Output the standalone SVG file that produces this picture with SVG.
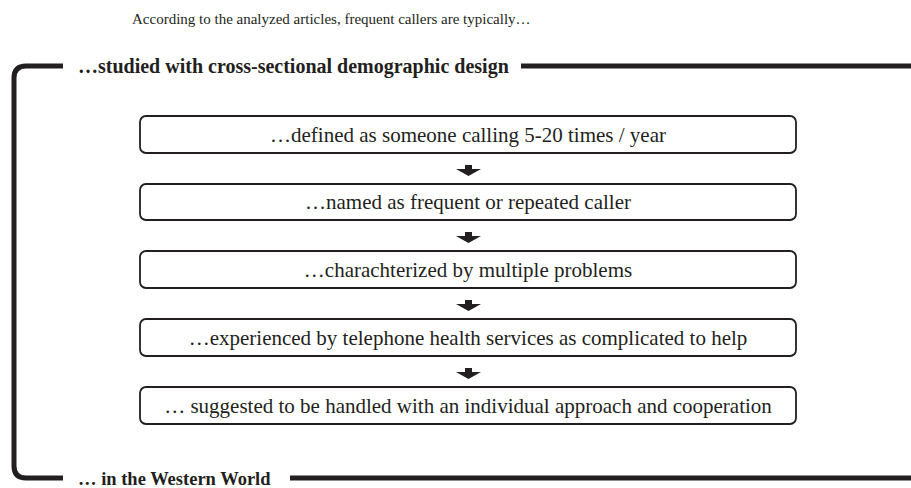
<svg xmlns="http://www.w3.org/2000/svg" width="911" height="488" viewBox="0 0 911 488">
<defs>
<style>
.t{font-family:"Liberation Serif","Times New Roman",serif;fill:#231f20}
.bt{font-size:21px}
.box{fill:#fff;stroke:#231f20;stroke-width:1.8}
.br{fill:none;stroke:#231f20;stroke-width:5}
.arr{fill:#231f20}
</style>
</defs>
<rect width="911" height="488" fill="#fff"/>
<text class="t" x="132" y="24" font-size="15">According to the analyzed articles, frequent callers are typically…</text>
<g id="frame">
<path class="br" d="M63 66 H26 Q14 66 14 78 V466 Q14 478 26 478 H63"/>
<line class="br" x1="521" y1="66" x2="911" y2="66"/>
<line class="br" x1="290" y1="478" x2="911" y2="478"/>
<text class="t" x="78" y="73" font-size="20" font-weight="bold">…studied with cross-sectional demographic design</text>
<text class="t" x="78" y="485" font-size="18.5" font-weight="bold">… in the Western World</text>
</g>
<g id="n1"><rect class="box" x="140" y="116" width="656" height="37" rx="6"/><text class="t bt" x="468" y="142" text-anchor="middle">…defined as someone calling 5-20 times / year</text></g>
<g id="n2"><rect class="box" x="140" y="184" width="656" height="36" rx="6"/><text class="t bt" x="468" y="209" text-anchor="middle">…named as frequent or repeated caller</text></g>
<g id="n3"><rect class="box" x="140" y="251" width="656" height="37" rx="6"/><text class="t bt" x="468" y="277" text-anchor="middle">…charachterized by multiple problems</text></g>
<g id="n4"><rect class="box" x="140" y="319" width="656" height="37" rx="6"/><text class="t bt" x="468" y="345" text-anchor="middle">…experienced by telephone health services as complicated to help</text></g>
<g id="n5"><rect class="box" x="140" y="387" width="656" height="37" rx="6"/><text class="t bt" x="468" y="413" text-anchor="middle">… suggested to be handled with an individual approach and cooperation</text></g>
<g id="connectors">
<path class="arr" d="M465 165 h7 v4 h9 l-12.5 7 l-12.5 -7 h9 z"/>
<path class="arr" d="M465 232 h7 v4 h9 l-12.5 7 l-12.5 -7 h9 z"/>
<path class="arr" d="M465 300 h7 v4 h9 l-12.5 7 l-12.5 -7 h9 z"/>
<path class="arr" d="M465 368 h7 v4 h9 l-12.5 7 l-12.5 -7 h9 z"/>
</g>
</svg>
